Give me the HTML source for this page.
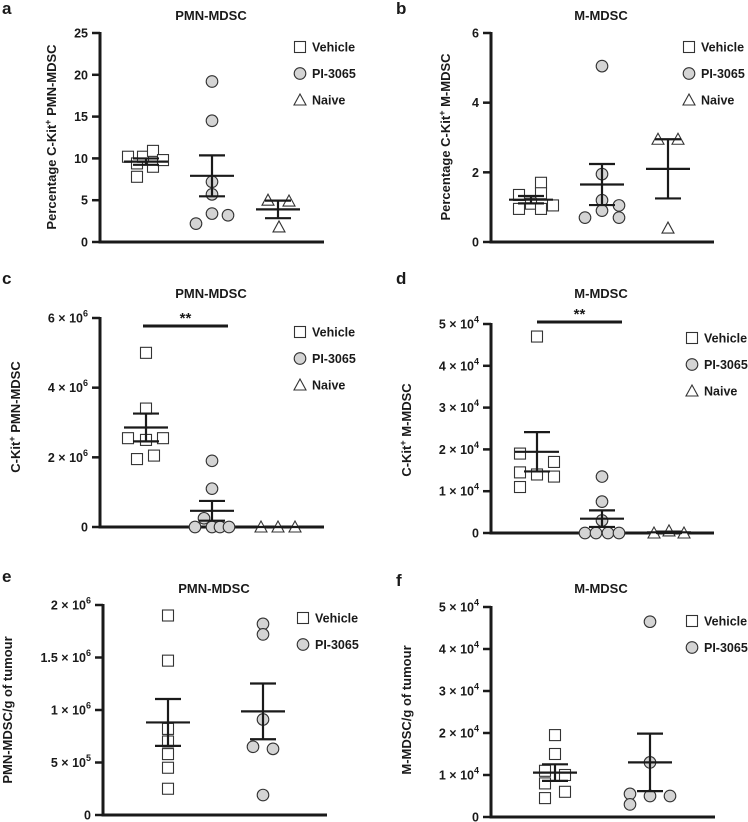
<!DOCTYPE html>
<html><head><meta charset="utf-8">
<style>
body{margin:0;background:#fff;}
svg{display:block;font-family:"Liberation Sans",Arial,sans-serif;}
text{fill:#1a1a1a;}
</style></head>
<body>
<svg id="fig" width="748" height="822" viewBox="0 0 748 822" xmlns="http://www.w3.org/2000/svg"></svg>
<script>
// ---- data ----
const groups = ["Vehicle","PI-3065","Naive"];
const aVehicle=[10.2,9.4,10.2,10.9,9.0,7.8,9.8], aPI=[19.2,14.5,7.2,5.7,3.4,3.2,2.2], aNaive=[5.0,4.9,1.8];
const bVehicle=[1.35,1.7,1.4,0.95,1.1,0.95,1.05], bPI=[5.05,1.95,1.2,1.05,0.7,0.9,0.7], bNaive=[2.95,2.95,0.4];
const cVehicle=[5.0,3.4,2.55,2.5,2.55,1.95,2.05], cPI=[1.9,1.1,0.25,0,0,0,0], cNaive=[0,0,0];
const dVehicle=[4.7,1.9,1.45,1.1,1.4,1.7,1.35], dPI=[1.35,0.75,0.3,0,0,0,0], dNaive=[0,0.05,0];
const eVehicle=[1.9,1.47,0.82,0.7,0.58,0.45,0.25], ePI=[1.82,1.72,0.91,0.65,0.63,0.19];
const fVehicle=[1.95,1.5,1.1,1.0,0.8,0.6,0.45], fPI=[4.65,1.3,0.55,0.5,0.5,0.3];
const aTicks=[0,5,10,15,20,25], aTickLabels=["0","5","10","15","20","25"];
const bTicks=[0,2,4,6], bTickLabels=["0","2","4","6"];
const cTicks=[0,2,4,6], cTickLabels=["0","2 × 10^6","4 × 10^6","6 × 10^6"];
const dTicks=[0,1,2,3,4,5], dTickLabels=["0","1 × 10^4","2 × 10^4","3 × 10^4","4 × 10^4","5 × 10^4"];
const eTicks=[0,0.5,1,1.5,2], eTickLabels=["0","5 × 10^5","1 × 10^6","1.5 × 10^6","2 × 10^6"];
const fTicks=[0,1,2,3,4,5], fTickLabels=["0","1 × 10^4","2 × 10^4","3 × 10^4","4 × 10^4","5 × 10^4"];

const NS="http://www.w3.org/2000/svg";
const svg=document.getElementById('fig');
function mk(tag,attrs,parent){const e=document.createElementNS(NS,tag);for(const k in attrs)e.setAttribute(k,attrs[k]);(parent||svg).appendChild(e);return e;}
function meanSem(v){const n=v.length;const m=v.reduce((a,b)=>a+b,0)/n;const sd=Math.sqrt(v.reduce((a,b)=>a+(b-m)*(b-m),0)/(n-1));return [m,sd/Math.sqrt(n)];}
function tickText(g,str,x,y){
  const t=mk('text',{x:x,y:y,'text-anchor':'end','font-size':'12.5','font-weight':'bold'},g);
  const parts=str.split('^');
  t.appendChild(document.createTextNode(parts[0]));
  if(parts[1]){const s=mk('tspan',{dy:'-6','font-size':'9'},t);s.textContent=parts[1];}
  return t;
}
function marker(g,kind,x,y){
  let e;
  if(kind===0){e=mk('rect',{x:x-5.5,y:y-5.5,width:11,height:11,fill:'#fff',stroke:'#333','stroke-width':1.1},g);}
  else if(kind===1){e=mk('circle',{cx:x,cy:y,r:5.8,fill:'#d4d4d4',stroke:'#333','stroke-width':1.1},g);}
  else {e=mk('path',{d:`M${x-6},${y+5} L${x+6},${y+5} L${x},${y-6} Z`,fill:'#fff',stroke:'#333','stroke-width':1.1},g);}
  return e;
}
function panel(p){
  const g=mk('g',{});
  
  
  const y=v=>p.y0+(p.y1-p.y0)*(v-p.ticks[0])/(p.ticks[p.ticks.length-1]-p.ticks[0]);
  const lbl=mk('text',{x:p.lx,y:p.ly,'font-size':'17','font-weight':'bold'},g);lbl.textContent=p.id;
  
  
  const tt=mk('text',{x:p.tx,y:p.ty,'text-anchor':'middle','font-size':'13','font-weight':'bold'},g);tt.textContent=p.title;
  
  
  const yl=mk('text',{transform:`translate(${p.yx},${p.yy}) rotate(-90)`,'text-anchor':'middle','font-size':'13','font-weight':'bold'},g);
  
  
  if(p.sup){yl.appendChild(document.createTextNode(p.ytitle[0]));const s=mk('tspan',{dy:'-5','font-size':'9'},yl);s.textContent='+';const r=mk('tspan',{dy:'5'},yl);r.textContent=p.ytitle[1];}
  else yl.textContent=p.ytitle;
  mk('line',{x1:p.ax,y1:y(p.ticks[p.ticks.length-1])-1,x2:p.ax,y2:y(0)+1.5,stroke:'#1a1a1a','stroke-width':3},g);
  mk('line',{x1:p.ax-1.5,y1:y(0),x2:p.xend,y2:y(0),stroke:'#1a1a1a','stroke-width':3},g);
  p.ticks.forEach((t,i)=>{
    const l=mk('line',{x1:p.ax-8,y1:y(t),x2:p.ax,y2:y(t),stroke:'#1a1a1a','stroke-width':2.5},g);
    
    
    const tx=tickText(g,p.tickLabels[i],p.ax-12,y(t)+4.5);
    
    
  });
  p.series.forEach((vals,si)=>{
    const cx=p.gx[si];
    vals.forEach((v,i)=>{
      const m=marker(g,si,cx+(p.jit[si][i]||0),y(v));
      
      
    });
    const [m,se]=meanSem(vals);
    const ml=mk('line',{x1:cx-22,y1:y(m),x2:cx+22,y2:y(m),stroke:'#1a1a1a','stroke-width':2.2},g);
    
    
    const eb=mk('path',{d:`M${cx},${y(m+se)} V${y(Math.max(m-se,0))} M${cx-13},${y(m+se)} H${cx+13} M${cx-13},${y(Math.max(m-se,0))} H${cx+13}`,stroke:'#1a1a1a','stroke-width':2.2,fill:'none'},g);
    
    
  });
  p.series.forEach((_,si)=>{
    const ly=p.legY+si*26.5;
    const le=mk('g',{},g);
    
    
    marker(le,si,p.legX,ly);
    const t=mk('text',{x:p.legX+12,y:ly+4.5,'font-size':'12.5','font-weight':'bold'},le);t.textContent=groups[si];
  });
  if(p.sig){
    const s=mk('line',{x1:p.sig[0],y1:p.sig[2],x2:p.sig[1],y2:p.sig[2],stroke:'#1a1a1a','stroke-width':3},g);
    
    
    const st=mk('text',{x:(p.sig[0]+p.sig[1])/2,y:p.sig[2]-3,'text-anchor':'middle','font-size':'15','font-weight':'bold'},g);st.textContent='**';
    
    
  }
}
panel({id:'a',title:'PMN-MDSC',lx:2,ly:14,tx:211,ty:20,yx:56,yy:137,sup:true,ytitle:['Percentage C-Kit',' PMN-MDSC'],
  ax:100,xend:324,y0:242,y1:33,ticks:aTicks,tickLabels:aTickLabels,gx:[146,212,278],
  series:[aVehicle,aPI,aNaive],jit:[[-18,-9,-3,7,7,-9,17],[0,0,0,0,0,16,-16],[-10,11,1]],legX:300,legY:47});
panel({id:'b',title:'M-MDSC',lx:396,ly:14,tx:601,ty:20,yx:450,yy:137,sup:true,ytitle:['Percentage C-Kit',' M-MDSC'],
  ax:491,xend:714,y0:242,y1:33,ticks:bTicks,tickLabels:bTickLabels,gx:[531,602,668],
  series:[bVehicle,bPI,bNaive],jit:[[-12,10,10,-12,0,10,22],[0,0,0,17,-17,0,17],[-10,10,0]],legX:689,legY:47});
panel({id:'c',title:'PMN-MDSC',lx:2,ly:284,tx:211,ty:298,yx:20,yy:417,sup:true,ytitle:['C-Kit',' PMN-MDSC'],
  ax:100,xend:324,y0:527,y1:318,ticks:cTicks,tickLabels:cTickLabels,gx:[146,212,278],
  series:[cVehicle,cPI,cNaive],jit:[[0,0,-18,0,17,-9,8],[0,0,-8,-17,0,8,17],[-17,0,17]],legX:300,legY:332,sig:[143,228,326]});
panel({id:'d',title:'M-MDSC',lx:396,ly:284,tx:601,ty:298,yx:411,yy:430,sup:true,ytitle:['C-Kit',' M-MDSC'],
  ax:491,xend:714,y0:533,y1:324,ticks:dTicks,tickLabels:dTickLabels,gx:[537,602,669],
  series:[dVehicle,dPI,dNaive],jit:[[0,-17,-17,-17,0,17,17],[0,0,0,-17,-6,6,17],[-15,0,15]],legX:692,legY:338,sig:[537,622,322]});
panel({id:'e',title:'PMN-MDSC',lx:2,ly:582,tx:214,ty:593,yx:12,yy:710,sup:false,ytitle:'PMN-MDSC/g of tumour',
  ax:103,xend:327,y0:815,y1:605,ticks:eTicks,tickLabels:eTickLabels,gx:[168,263],
  series:[eVehicle,ePI],jit:[[0,0,0,0,0,0,0],[0,0,0,-10,10,0]],legX:303,legY:618});
panel({id:'f',title:'M-MDSC',lx:396,ly:586,tx:601,ty:593,yx:411,yy:710,sup:false,ytitle:'M-MDSC/g of tumour',
  ax:491,xend:715,y0:817,y1:607,ticks:fTicks,tickLabels:fTickLabels,gx:[555,650],
  series:[fVehicle,fPI],jit:[[0,0,-10,10,-10,10,-10],[0,0,-20,0,20,-20]],legX:692,legY:621});
</script>
</body></html>
